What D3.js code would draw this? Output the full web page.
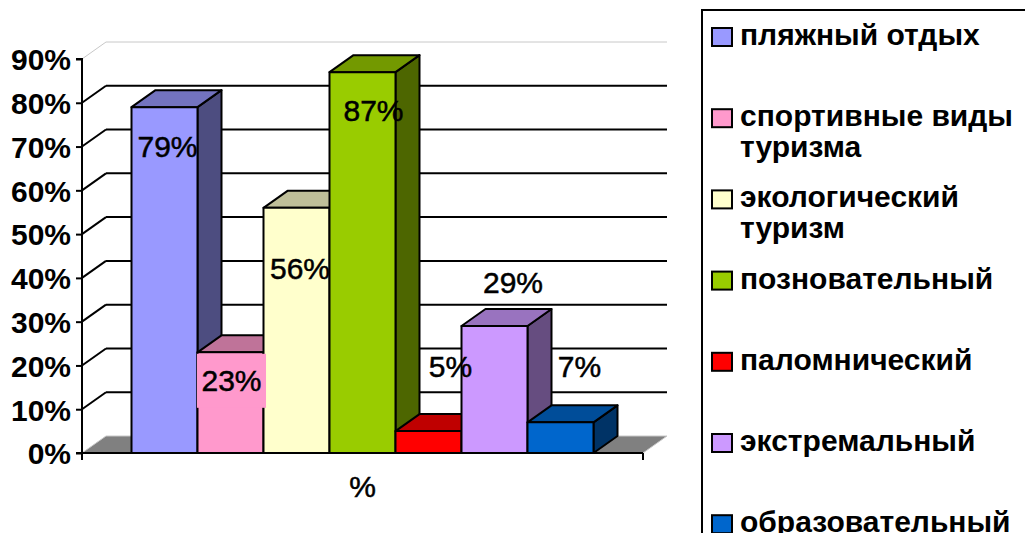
<!DOCTYPE html>
<html>
<head>
<meta charset="utf-8">
<script src="https://cdn.jsdelivr.net/npm/d3@7"></script>
<style>
  html, body { margin: 0; padding: 0; background: #fff; }
  svg { display: block; font-family: "Liberation Sans", Arial, sans-serif; }
</style>
</head>
<body>
<svg id="chart" width="1025" height="533"></svg>
<script>
// ---- data ----
const categories = ["%"];
const seriesNames = [
  "пляжный отдых",
  "спортивные виды туризма",
  "экологический туризм",
  "позновательный",
  "паломнический",
  "экстремальный",
  "образовательный"
];
const seriesValues = [79, 23, 56, 87, 5, 29, 7];
const seriesColors = ["#9999FF", "#FF99CC", "#FFFFCC", "#99CC00", "#FF0000", "#CC99FF", "#0066CC"];
const yTicks = [0, 10, 20, 30, 40, 50, 60, 70, 80, 90];
const yTickLabels = ["0%", "10%", "20%", "30%", "40%", "50%", "60%", "70%", "80%", "90%"];
// label placement tweaks (relative to bar top centre), as in the original
const labelShiftX = [3, 1, 3.5, 11, 22, 18.5, 19];
const labelShiftY = [50, 39, 71, 49, -54, -33, -45];

// ---- layout ----
const svg = d3.select("#chart");
const plotL = 82, plotR = 643, plotB = 453, plotT = 59;
const DX = 24, DY = -17;

const y = d3.scaleLinear().domain([0, 90]).range([plotB, plotT]);
const xCat = d3.scaleBand().domain(categories).range([plotL, plotR]).paddingOuter(0.75 / (seriesNames.length));
// inner scale: bars of one category side by side; gap width 150%
const barW = (plotR - plotL) / (seriesNames.length + 1.5);
const innerStart = plotL + barW * 0.75;
const x = d3.scaleBand().domain(seriesNames).range([innerStart, innerStart + barW * seriesNames.length]).padding(0);

const gridColor = "#000";
const lightEdge = "#c8c8c8";

// back wall gridlines + side wall diagonals
const grid = svg.append("g");
yTicks.forEach((t, i) => {
  if (t === 0) return;
  const yy = y(t);
  const col = (t === 90) ? lightEdge : gridColor;
  const w = (t === 90) ? 1 : 2;
  grid.append("line")
    .attr("x1", plotL + DX).attr("x2", plotR + DX)
    .attr("y1", yy + DY).attr("y2", yy + DY)
    .attr("stroke", col).attr("stroke-width", w);
  grid.append("line")
    .attr("x1", plotL).attr("x2", plotL + DX)
    .attr("y1", yy).attr("y2", yy + DY)
    .attr("stroke", col).attr("stroke-width", w);
});

// floor
const y0 = y(0);
svg.append("path")
  .attr("d", `M${plotL},${y0} L${plotL + DX},${y0 + DY} L${plotR + DX},${y0 + DY} L${plotR},${y0} Z`)
  .attr("fill", "#808080").attr("stroke", "none");
svg.append("path")
  .attr("d", `M${plotL},${y0} L${plotL + DX},${y0 + DY} L${plotR + DX},${y0 + DY} L${plotR},${y0}`)
  .attr("fill", "none").attr("stroke", lightEdge).attr("stroke-width", 1);

// bars (left to right)
const bars = svg.append("g");
seriesNames.forEach((name, i) => {
  const v = seriesValues[i];
  const bx = x(name), bw = x.bandwidth();
  const yt = y(v);
  const base = d3.color(seriesColors[i]);
  const topC = d3.rgb(base.r * 0.75, base.g * 0.75, base.b * 0.75);
  const sideC = d3.rgb(base.r * 0.5, base.g * 0.5, base.b * 0.5);
  const g = bars.append("g").attr("stroke", "#000").attr("stroke-width", 2).attr("stroke-linejoin", "round");
  g.append("path")
    .attr("d", `M${bx + bw},${yt} L${bx + bw + DX},${yt + DY} L${bx + bw + DX},${y0 + DY} L${bx + bw},${y0} Z`)
    .attr("fill", sideC);
  g.append("path")
    .attr("d", `M${bx},${yt} L${bx + DX},${yt + DY} L${bx + bw + DX},${yt + DY} L${bx + bw},${yt} Z`)
    .attr("fill", topC);
  g.append("rect")
    .attr("x", bx).attr("y", yt).attr("width", bw).attr("height", y0 - yt)
    .attr("fill", base);
});

// axis lines (front)
svg.append("line")
  .attr("x1", plotL).attr("x2", plotR).attr("y1", y0).attr("y2", y0)
  .attr("stroke", "#000").attr("stroke-width", 2);
svg.append("line")
  .attr("x1", plotR).attr("x2", plotR).attr("y1", y0).attr("y2", y0 + 7)
  .attr("stroke", "#000").attr("stroke-width", 2);
svg.append("line")
  .attr("x1", plotL).attr("x2", plotL).attr("y1", y0).attr("y2", y0 + 7)
  .attr("stroke", "#000").attr("stroke-width", 2);

// y axis
const yAxis = d3.axisLeft(y).tickValues(yTicks).tickSize(6).tickPadding(5)
  .tickFormat((d, i) => yTickLabels[i]);
const ya = svg.append("g").attr("transform", `translate(${plotL},0)`).call(yAxis);
ya.select(".domain").attr("stroke", "#000").attr("stroke-width", 2).attr("d", `M-6,${plotT}H0V${plotB}H-6`);
ya.selectAll(".tick line").attr("stroke", "#000").attr("stroke-width", 2);
ya.selectAll(".tick text")
  .attr("fill", "#000")
  .style("font-family", '"Liberation Sans", Arial, sans-serif')
  .style("font-size", "30px").style("font-weight", "bold")
  .attr("dy", "0.36em");

// category label
svg.append("text")
  .attr("x", xCat(categories[0]) + xCat.bandwidth() / 2)
  .attr("y", 497)
  .attr("text-anchor", "middle")
  .style("font-size", "30px")
  .attr("stroke", "#000").attr("stroke-width", 0.5)
  .text(categories[0]);

// data labels
const labels = svg.append("g");
seriesNames.forEach((name, i) => {
  const cx = x(name) + x.bandwidth() / 2 + labelShiftX[i];
  const by = y(seriesValues[i]) + labelShiftY[i];
  const t = labels.append("text")
    .attr("x", cx).attr("y", by)
    .attr("text-anchor", "middle")
    .style("font-size", "30px")
    .attr("stroke", "#000").attr("stroke-width", 0.5)
    .text(seriesValues[i] + "%");
  if (i === 1) {
    const bb = t.node().getBBox();
    labels.insert("rect", "text:last-child")
      .attr("x", bb.x - 4.5).attr("y", y(seriesValues[i]) + 1.5)
      .attr("width", bb.width + 9).attr("height", 54)
      .attr("fill", seriesColors[i]);
  }
});

// legend
const legend = svg.append("g");
legend.append("rect")
  .attr("x", 702).attr("y", 10).attr("width", 360).attr("height", 560)
  .attr("fill", "#fff").attr("stroke", "#000").attr("stroke-width", 2);
const rowStep = 81.2, row0 = 37, maxTextW = 280, lineH = 31;
seriesNames.forEach((name, i) => {
  const cy = row0 + i * rowStep;
  legend.append("rect")
    .attr("x", 712).attr("y", cy - 9).attr("width", 20).attr("height", 18)
    .attr("fill", seriesColors[i]).attr("stroke", "#000").attr("stroke-width", 2);
  const t = legend.append("text")
    .attr("x", 740).attr("y", cy + 8)
    .style("font-size", "30px").style("font-weight", "bold");
  // wrap words
  const words = name.split(" ");
  let line = [];
  let ts = t.append("tspan").attr("x", 740).attr("dy", 0);
  words.forEach(w => {
    line.push(w);
    ts.text(line.join(" "));
    if (ts.node().getComputedTextLength() > maxTextW && line.length > 1) {
      line.pop();
      ts.text(line.join(" "));
      line = [w];
      ts = t.append("tspan").attr("x", 740).attr("dy", lineH).text(w);
    }
  });
});
</script>
</body>
</html>
